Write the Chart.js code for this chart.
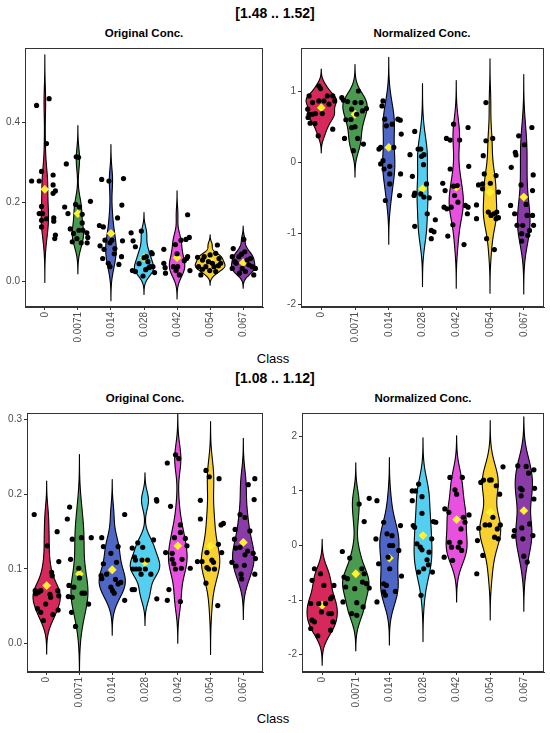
<!DOCTYPE html>
<html><head><meta charset="utf-8">
<script src="https://cdn.jsdelivr.net/npm/chart.js@4.4.0/dist/chart.umd.min.js"></script>
<style>
body{margin:0;background:#fff;width:550px;height:733px;position:relative;overflow:hidden;font-family:"Liberation Sans",Arial,sans-serif;}
canvas{position:absolute;}
.t{position:absolute;transform:translate(-50%,-50%);white-space:nowrap;color:#000;}
.main{font-weight:bold;font-size:14px;}
.sub{font-weight:bold;font-size:11.5px;}
.xl{font-size:13px;}
</style></head><body>
<div class="t main" style="left:275px;top:13px">[1.48 .. 1.52]</div>
<div class="t sub" style="left:144px;top:33px">Original Conc.</div>
<div class="t sub" style="left:422px;top:33px">Normalized Conc.</div>
<div class="t xl" style="left:273px;top:358px">Class</div>
<div class="t main" style="left:275px;top:378px">[1.08 .. 1.12]</div>
<div class="t sub" style="left:145px;top:398px">Original Conc.</div>
<div class="t sub" style="left:423px;top:398px">Normalized Conc.</div>
<div class="t xl" style="left:273px;top:718px">Class</div>
<canvas id="c1" width="270" height="310" style="left:0;top:40px"></canvas>
<canvas id="c2" width="275" height="310" style="left:275px;top:40px"></canvas>
<canvas id="c3" width="270" height="310" style="left:0;top:405px"></canvas>
<canvas id="c4" width="275" height="310" style="left:275px;top:405px"></canvas>
<script>
const classes = ['0','0.0071','0.014','0.028','0.042','0.054','0.067'];
const fills = ['#D6285A','#4A9A50','#4E66C6','#55CFF0','#E850E0','#F8D030','#8A3BA8'];

// ---- [1.48 .. 1.52] Original Conc.
const origA_vals = [
 [0.443,0.46,0.347,0.253,0.253,0.277,0.268,0.243,0.228,0.222,0.189,0.171,0.171,0.158,0.16,0.152,0.154,0.1375,0.117,0.108],
 [0.296,0.314,0.3125,0.1875,0.171,0.194,0.2017,0.169,0.1325,0.129,0.1475,0.1,0.108,0.0975,0.1225,0.111,0.0975,0.1875,0.121,0.129],
 [0.257,0.253,0.259,0.1925,0.16,0.141,0.1375,0.104,0.104,0.1025,0.09,0.081,0.083,0.0975,0.058,0.046,0.0375,0.043,0.0625,0.07],
 [0.1225,0.127,0.1025,0.0875,0.073,0.0625,0.0275,0.025,0.0375,0.0375,0.0225,0.014,0.06,0.05,0.07,0.03,0.045,0.035],
 [0.081,0.168,0.111,0.106,0.104,0.0625,0.058,0.046,0.035,0.021,0.0375,0.0375,0.0275,0.0167,0.0275,0.093,0.0525,0.07],
 [0.061,0.054,0.067,0.092,0.058,0.046,0.0375,0.031,0.0375,0.0275,0.0375,0.025,0.0167,0.046,0.0625,0.071,0.05,0.04],
 [0.083,0.106,0.069,0.0625,0.0625,0.058,0.054,0.046,0.033,0.021,0.025,0.0375,0.033,0.0167,0.042,0.033,0.05,0.075]
];
const origA_jit = [
 [-0.25,0.13,0.05,-0.40,-0.17,-0.10,0.25,0.25,0.32,0.25,-0.10,-0.17,-0.07,0.05,0.27,0.27,-0.10,-0.10,0.32,0.30],
 [-0.35,-0.05,0.02,-0.40,-0.30,-0.07,0.38,0.13,-0.23,0.03,0.13,-0.17,-0.03,0.10,0.27,0.30,0.28,0.05,-0.13,0.15],
 [-0.28,-0.06,0.38,0.33,0.20,-0.35,-0.23,-0.18,0.03,0.35,-0.33,-0.21,0.12,-0.03,-0.25,-0.08,-0.03,0.24,0.32,0.10],
 [-0.39,-0.08,-0.33,-0.26,0.22,0.07,-0.35,-0.26,0.19,0.27,0.32,-0.03,0.0,0.12,0.25,0.05,-0.15,0.15],
 [-0.40,0.32,0.37,0.27,0.12,0.32,0.29,-0.40,-0.36,-0.35,-0.11,0.02,-0.03,0.07,0.39,-0.05,0.22,0.0],
 [-0.38,-0.23,0,0.22,0.27,0.32,-0.35,-0.23,-0.13,-0.01,0.12,0.17,-0.28,0.07,-0.18,0.17,-0.05,0.25],
 [-0.30,0.02,-0.05,-0.13,-0.33,0.22,0.12,-0.21,-0.33,-0.11,0.07,0.27,0.37,0.32,0.17,-0.03,-0.25,0.05]
];
const origA_mean = [0.232,0.171,0.121,0.060,0.060,0.054,0.0475];

// ---- [1.48 .. 1.52] Normalized Conc.
const normA_vals = [
 [0.936,1.076,1.04,0.936,0.936,0.866,0.842,0.866,0.866,0.749,0.678,0.678,0.688,0.688,0.552,0.547,0.374,0.468,0.632,0.82],
 [0.912,0.875,1.006,0.842,0.725,0.758,0.842,0.856,0.6,0.604,0.5,0.337,0.337,0.257,0.164,0.49,0.678,0.749],
 [0.866,0.795,0.608,0.515,0.538,0.608,0.594,0.398,0.187,0.21,0.21,0.023,-0.023,-0.094,-0.056,-0.164,-0.304,-0.164,-0.468,-0.538],
 [0.108,0.435,0.187,0.187,0.084,0.108,-0.033,-0.197,-0.435,-0.468,-0.445,-0.304,-0.5,-0.49,-0.725,-0.81,-0.96,-0.98,-1.076,-0.903],
 [0.538,0.337,0.314,0.314,0.491,-0.056,-0.295,-0.398,-0.094,-0.337,-0.328,-0.468,-0.562,-0.632,-0.632,-0.655,-0.608,-0.632,-0.725,-1.04,-1.16,-0.88],
 [0.842,0.337,0.304,0.094,-0.318,-0.304,-0.164,-0.295,-0.187,-0.374,-0.42,-0.6,-0.702,-0.749,-0.725,-0.702,-0.795,-0.78,-1.076,-1.23,-0.795],
 [0.374,0.14,0.103,-0.07,0.248,0.491,-0.178,-0.398,-0.318,-0.594,-0.608,-0.725,-0.749,-0.749,-0.889,-0.889,-0.96,-0.889,-1.006,-1.03,-1.11]
];
const normA_jit = [
 [-0.36,-0.07,-0.02,0.18,0.34,0.40,-0.26,-0.07,0.08,-0.40,-0.36,-0.26,-0.17,0.03,-0.33,-0.19,-0.09,0.34,-0.39,0.23],
 [-0.39,-0.34,0.10,0.18,0.22,0.34,0,-0.22,-0.27,-0.12,0,-0.31,0.08,0.25,-0.05,-0.1,0.05,-0.1],
 [-0.17,-0.2,-0.12,-0.07,0.1,0.27,0.34,0.37,-0.29,-0.24,0.15,-0.17,-0.24,-0.14,0.03,0.03,0.03,0.35,0.32,-0.1],
 [-0.37,-0.23,-0.13,-0.05,-0.03,0.04,0.03,-0.3,-0.23,-0.25,-0.05,0.12,0.2,0.04,0.14,0.38,0.26,0.34,0.26,-0.23],
 [-0.08,-0.29,-0.18,0.1,0.35,0.37,-0.4,-0.33,-0.18,-0.08,0.03,-0.05,0.05,-0.15,-0.36,-0.28,0.27,0.35,0.33,-0.25,0.23,-0.1],
 [-0.12,0.08,-0.12,-0.2,-0.34,-0.22,-0.17,0.01,0.18,-0.22,0.25,-0.4,-0.05,0.03,0.11,0.2,0.18,0.25,-0.1,0.13,-0.4],
 [-0.15,-0.25,-0.23,-0.37,0.02,0.24,0.28,0.26,-0.08,0.07,-0.39,-0.27,0.1,0.26,-0.2,-0.03,0.17,0.29,-0.06,0.12,-0.06]
];
const normA_mean = [0.77,0.678,0.21,-0.374,-0.351,-0.42,-0.49];

// ---- [1.08 .. 1.12] Original Conc.
const origB_vals = [
 [0.173,0.150,0.110,0.131,0.0956,0.091,0.071,0.069,0.071,0.071,0.064,0.062,0.053,0.047,0.042,0.045,0.039,0.031,0.067,0.066],
 [0.183,0.167,0.14,0.142,0.142,0.113,0.101,0.078,0.0756,0.0676,0.0676,0.063,0.062,0.053,0.042,0.023,0.088],
 [0.173,0.142,0.13,0.121,0.13,0.107,0.109,0.093,0.091,0.087,0.082,0.08,0.0756,0.071,0.0676,0.058,0.086],
 [0.128,0.135,0.129,0.139,0.193,0.191,0.112,0.112,0.112,0.1,0.1,0.1,0.1,0.093,0.093,0.0724,0.0724,0.06,0.116],
 [0.253,0.248,0.242,0.184,0.159,0.149,0.142,0.141,0.131,0.122,0.121,0.113,0.113,0.107,0.1,0.101,0.101,0.0724,0.058,0.0564],
 [0.232,0.2236,0.221,0.192,0.167,0.161,0.159,0.122,0.133,0.122,0.11,0.11,0.112,0.109,0.102,0.1,0.1,0.081,0.051],
 [0.221,0.213,0.173,0.193,0.169,0.153,0.151,0.14,0.129,0.128,0.124,0.119,0.121,0.114,0.109,0.104,0.105,0.093,0.093,0.0867]
];
const origB_jit = [
 [-0.38,0.32,0.37,0.02,0.15,0.17,-0.35,-0.25,-0.18,0.34,0.37,0.12,-0.03,-0.28,-0.18,0.35,0.19,-0.1,-0.33,0.1],
 [-0.3,-0.37,-0.22,0.06,0.36,-0.27,-0.02,-0.32,-0.17,0.08,0.16,-0.34,-0.22,0.28,-0.24,-0.12,0.0],
 [0.38,-0.32,-0.27,-0.04,0.18,-0.27,0.13,-0.17,-0.34,-0.32,0.26,0.18,-0.04,0.01,0.06,0.38,0.1],
 [-0.39,-0.22,-0.07,0.26,0.35,0.36,-0.09,0.08,-0.29,-0.37,-0.27,-0.17,0.01,-0.12,0.18,-0.39,-0.32,0.36,-0.32],
 [-0.07,0.03,-0.32,-0.22,0.08,0.08,-0.1,0.23,0.28,-0.37,-0.17,-0.17,0.13,-0.12,-0.07,0.38,0.11,-0.27,-0.32,0.08],
 [-0.14,-0.04,0.26,-0.31,-0.31,0.39,0.32,-0.11,0.24,0.34,-0.4,-0.26,0.04,0.09,-0.11,0.12,-0.06,-0.14,0.22],
 [0.35,0.15,-0.1,0.33,0.05,-0.25,0.2,-0.27,-0.1,-0.23,0.13,0.05,0.3,0.37,-0.35,-0.22,0.03,-0.07,0.35,-0.05]
];
const origB_mean = [0.0778,0.0933,0.099,0.109,0.131,0.131,0.1356];

// ---- [1.08 .. 1.12] Normalized Conc.
const normB_vals = [
 [-0.426,-0.517,-0.638,-0.73,-0.73,-1.064,-1.064,-1.064,-0.973,-0.942,-1.216,-1.246,-1.246,-1.368,-1.398,-1.398,-1.55,-1.52,-1.653],
 [0.76,0.863,0.438,-0.11,-0.231,-0.578,-0.608,-0.426,-0.517,-0.669,-0.699,-0.778,-0.76,-0.79,-1.033,-1.046,-1.125,-1.246,-1.277],
 [0.82,0.12,0.213,0.18,0.426,0.365,0.0,0.0,-0.334,-0.213,-0.09,-0.426,-0.56,-0.7,-0.73,-0.85,-0.91,-0.84,-1.033],
 [1.0,1.0,1.125,0.894,0.82,0.365,0.334,0.59,0.03,-0.03,-0.079,0.438,0.426,0.122,-0.122,-0.261,-0.353,-0.486,-0.426,-0.486,-0.912],
 [1.246,1.246,1.02,0.94,0.669,0.608,0.304,0.517,0.426,0.56,0.06,-0.03,-0.03,0.06,-0.09,-0.274,-0.213],
 [1.155,1.198,1.198,1.094,1.44,0.94,0.316,0.377,0.377,0.304,0.517,-0.182,0.09,0.152,0.122,0.377,-0.517,1.2],
 [1.459,1.447,1.325,1.386,1.046,1.02,1.046,0.851,0.91,0.274,0.17,0.322,0.395,0.182,0.122,-0.195,-0.304]
];
const normB_jit = [
 [-0.23,-0.05,-0.3,0.35,0.05,-0.34,-0.1,0.1,0.25,0.3,-0.02,0.2,0.28,-0.3,-0.23,0.32,0.25,-0.34,-0.13],
 [0.1,0.4,0.25,-0.4,-0.18,-0.35,-0.25,0.18,0.25,0.2,0.32,0.4,-0.3,-0.03,-0.38,0.03,0.22,-0.12,0.03],
 [-0.37,-0.4,-0.07,0.08,-0.17,0.33,0.01,0.1,-0.32,-0.04,0.28,0.01,0.36,-0.17,-0.09,-0.17,-0.12,0.18,-0.37],
 [-0.32,-0.22,-0.13,-0.03,-0.32,-0.29,-0.25,-0.03,-0.18,-0.08,-0.03,0.31,0.38,0.26,0.18,0.12,0.16,-0.13,0.02,0.28,-0.06],
 [-0.2,0.17,-0.05,0.0,-0.35,-0.23,0.13,0.2,0.25,0.37,-0.22,-0.15,0.05,0.1,0.15,-0.12,-0.37],
 [-0.28,-0.2,-0.02,0.18,0.38,0.28,-0.34,-0.15,-0.02,0.21,0.08,-0.22,-0.38,0.13,0.24,0.3,-0.4,0.03],
 [-0.18,0.07,0.14,0.3,-0.1,-0.05,0.32,0.3,-0.08,-0.28,-0.3,-0.06,0.17,0.27,-0.03,0.0,0.1]
];
const normB_mean = [-1.094,-0.517,-0.231,0.182,0.474,0.608,0.638];

// ---- kernel density (Gaussian, nrd0 bandwidth, tails extended 3 bw)
function quant(s, p){ const h=(s.length-1)*p, lo=Math.floor(h); const hi=Math.min(lo+1,s.length-1); return s[lo]+(h-lo)*(s[hi]-s[lo]); }
function bwNrd0(v){
  const n=v.length, m=v.reduce((a,b)=>a+b,0)/n;
  const sd=Math.sqrt(v.reduce((a,b)=>a+(b-m)*(b-m),0)/(n-1));
  const s=[...v].sort((a,b)=>a-b);
  let lo=Math.min(sd,(quant(s,0.75)-quant(s,0.25))/1.34);
  if(!(lo>0)) lo=sd||1;
  return 0.9*lo*Math.pow(n,-0.2);
}
function kde(v){
  const bw=bwNrd0(v), lo=Math.min(...v)-3*bw, hi=Math.max(...v)+3*bw, out=[];
  for(let k=0;k<256;k++){
    const t=lo+(hi-lo)*k/255; let s=0;
    for(const a of v){ const z=(t-a)/bw; s+=Math.exp(-0.5*z*z); }
    out.push([t, s/(v.length*bw*Math.sqrt(2*Math.PI))]);
  }
  return out;
}

const violinPlugin = {
  id:'violin',
  beforeDatasetsDraw(chart, args, opts){
    const {ctx, chartArea:a, scales:{x,y}} = chart;
    const dens = opts.groups.map(kde);
    const gmax = Math.max(...dens.map(d=>Math.max(...d.map(p=>p[1]))));
    ctx.save();
    ctx.beginPath(); ctx.rect(a.left,a.top,a.right-a.left,a.bottom-a.top); ctx.clip();
    dens.forEach((d,i)=>{
      ctx.beginPath();
      d.forEach((p,k)=>{ const px=x.getPixelForValue(i+0.45*p[1]/gmax), py=y.getPixelForValue(p[0]); k?ctx.lineTo(px,py):ctx.moveTo(px,py); });
      for(let k=d.length-1;k>=0;k--){ const p=d[k]; ctx.lineTo(x.getPixelForValue(i-0.45*p[1]/gmax), y.getPixelForValue(p[0])); }
      ctx.closePath();
      ctx.fillStyle=fills[i]; ctx.fill();
      ctx.lineWidth=1.1; ctx.strokeStyle='#000'; ctx.lineJoin='round'; ctx.stroke();
    });
    ctx.restore();
  },
  afterDraw(chart){
    const {ctx, chartArea:a} = chart;
    ctx.save(); ctx.strokeStyle='#333'; ctx.lineWidth=1;
    ctx.strokeRect(Math.round(a.left)+0.5, Math.round(a.top)+0.5, Math.round(a.right-a.left)-1, Math.round(a.bottom-a.top)-1);
    ctx.restore();
  }
};

function makePanel(id, vals, jit, means, yMin, yMax, yTicks, yFmt, yWidth, padRight){
  const pts=[];
  vals.forEach((arr,i)=>arr.forEach((v,k)=>pts.push({x:i+jit[i][k], y:v})));
  const mpts=means.map((m,i)=>({x:i,y:m}));
  new Chart(document.getElementById(id), {
    type:'scatter',
    data:{datasets:[
      {data:pts, pointRadius:2.6, pointHoverRadius:2.6, backgroundColor:'#000', borderWidth:0},
      {data:mpts, pointStyle:'rectRot', pointRadius:4.4, pointHoverRadius:4.4, backgroundColor:'#FFF22A', borderWidth:0}
    ]},
    options:{
      responsive:false, animation:false, events:[],
      layout:{padding:{top:7,right:padRight,left:0,bottom:0}},
      plugins:{legend:{display:false}, tooltip:{enabled:false}, violin:{groups:vals}},
      scales:{
        x:{type:'linear', min:-0.6, max:6.6,
           afterBuildTicks:s=>{ s.ticks=classes.map((c,i)=>({value:i})); },
           afterFit:s=>{ s.height=43; },
           ticks:{autoSkip:false, minRotation:90, maxRotation:90, padding:2, color:'#4D4D4D',
                  font:{family:'Liberation Sans', size:10}, callback:v=>classes[v]},
           grid:{display:true, drawOnChartArea:false, tickLength:3, color:'#333'},
           border:{display:true, color:'#333'}},
        y:{type:'linear', min:yMin, max:yMax,
           afterBuildTicks:s=>{ s.ticks=yTicks.map(v=>({value:v})); },
           afterFit:s=>{ s.width=yWidth; },
           ticks:{autoSkip:false, padding:2, color:'#4D4D4D', font:{family:'Liberation Sans', size:10}, callback:yFmt},
           grid:{display:true, drawOnChartArea:false, tickLength:3, color:'#333'},
           border:{display:true, color:'#333'}}
      }
    },
    plugins:[violinPlugin]
  });
}
const f1 = v=>v.toFixed(1), f0 = v=>String(v);
makePanel('c1', origA_vals, origA_jit, origA_mean, -0.064, 0.5875, [0,0.2,0.4], f1, 25, 7);
makePanel('c2', normA_vals, normA_jit, normA_mean, -2.04, 1.612, [-2,-1,0,1], f0, 26, 6);
makePanel('c3', origB_vals, origB_jit, origB_mean, -0.038, 0.309, [0,0.1,0.2,0.3], f1, 27, 7);
makePanel('c4', normB_vals, normB_jit, normB_mean, -2.316, 2.426, [-2,-1,0,1,2], f0, 27, 6);
</script>
</body></html>
